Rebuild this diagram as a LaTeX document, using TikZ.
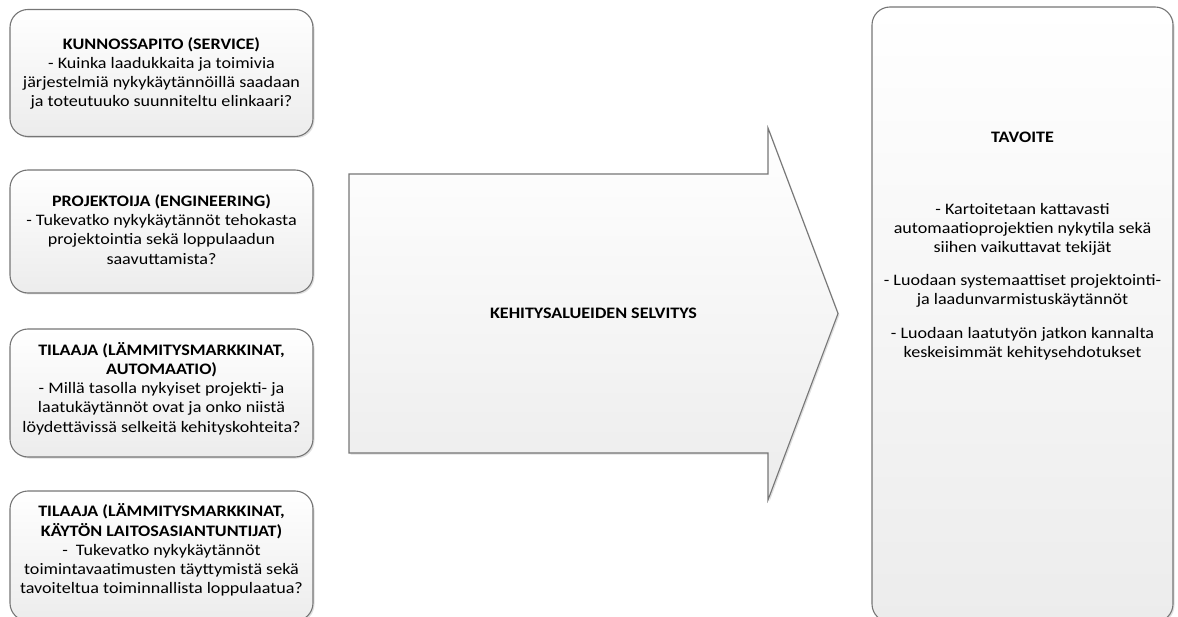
\documentclass[tikz,border=0pt]{standalone}
\usepackage{fontspec}
\setmainfont{Carlito}[FakeStretch=1.13]
\usetikzlibrary{shadows}

\definecolor{edge}{RGB}{118,118,118}
\definecolor{fillbot}{RGB}{236,236,236}

\tikzset{
  panel/.style={draw=edge, line width=1.1pt, rounded corners=18pt,
    top color=white, bottom color=fillbot,
    drop shadow={opacity=0.25, shadow xshift=1.5pt, shadow yshift=-1.5pt},
    inner sep=0pt},
  txt/.style={align=center, inner sep=0pt, font=\fontsize{16}{19.2}\selectfont},
  bigarrow/.style={draw=edge, line width=1.1pt, line join=miter,
    top color=white, bottom color=fillbot,
    drop shadow={opacity=0.25, shadow xshift=1.5pt, shadow yshift=-1.5pt}},
}

\begin{document}
\begin{tikzpicture}[x=1pt,y=-1pt]
  \useasboundingbox (0,0) rectangle (1178,617);
  \clip (0,0) rectangle (1178,617);

  % left column: the four stakeholder boxes
  \node[panel, minimum width=303pt, minimum height=127pt] (b1) at (161.5,73) {};
  \node[panel, minimum width=303pt, minimum height=123pt] (b2) at (161.5,231.5) {};
  \node[panel, minimum width=303pt, minimum height=128pt] (b3) at (161.5,393) {};
  \node[panel, minimum width=303pt, minimum height=130pt] (b4) at (161.5,556) {};

  \node[txt] (t1) at (161.5,73.5) {\textbf{KUNNOSSAPITO (SERVICE)}\\- Kuinka laadukkaita ja toimivia\\järjestelmiä nykykäytännöillä saadaan\\ja toteutuuko suunniteltu elinkaari?};
  \node[txt] (t2) at (161.5,229.5) {\textbf{PROJEKTOIJA (ENGINEERING)}\\- Tukevatko nykykäytännöt tehokasta\\projektointia sekä loppulaadun\\saavuttamista?};
  \node[txt] (t3) at (161.5,388.5) {\textbf{TILAAJA (LÄMMITYSMARKKINAT,}\\\textbf{AUTOMAATIO)}\\- Millä tasolla nykyiset projekti- ja\\laatukäytännöt ovat ja onko niistä\\löydettävissä selkeitä kehityskohteita?};
  \node[txt] (t4) at (161.5,550) {\textbf{TILAAJA (LÄMMITYSMARKKINAT,}\\\textbf{KÄYTÖN LAITOSASIANTUNTIJAT)}\\-\ \ Tukevatko nykykäytännöt\\toimintavaatimusten täyttymistä sekä\\tavoiteltua toiminnallista loppulaatua?};

  % central block arrow
  \path[bigarrow] (349,174) -- (768,174) -- (768,128) -- (838,313.5)
    -- (768,500) -- (768,453) -- (349,453) -- cycle;
  \node[txt] (mid) at (593.5,313.5) {\textbf{KEHITYSALUEIDEN SELVITYS}};

  % right column: goal box
  \node[panel, minimum width=301pt, minimum height=615pt] (goal) at (1022.5,314.5) {};
  \node[txt] (gtitle) at (1022.5,137) {\textbf{TAVOITE}};
  \node[txt] (gbody) at (1022.5,281.5) {- Kartoitetaan kattavasti\\automaatioprojektien nykytila sekä\\siihen vaikuttavat tekijät\\[14pt]- Luodaan systemaattiset projektointi-\\ja laadunvarmistuskäytännöt\\[14pt]- Luodaan laatutyön jatkon kannalta\\keskeisimmät kehitysehdotukset};
\end{tikzpicture}
\end{document}
